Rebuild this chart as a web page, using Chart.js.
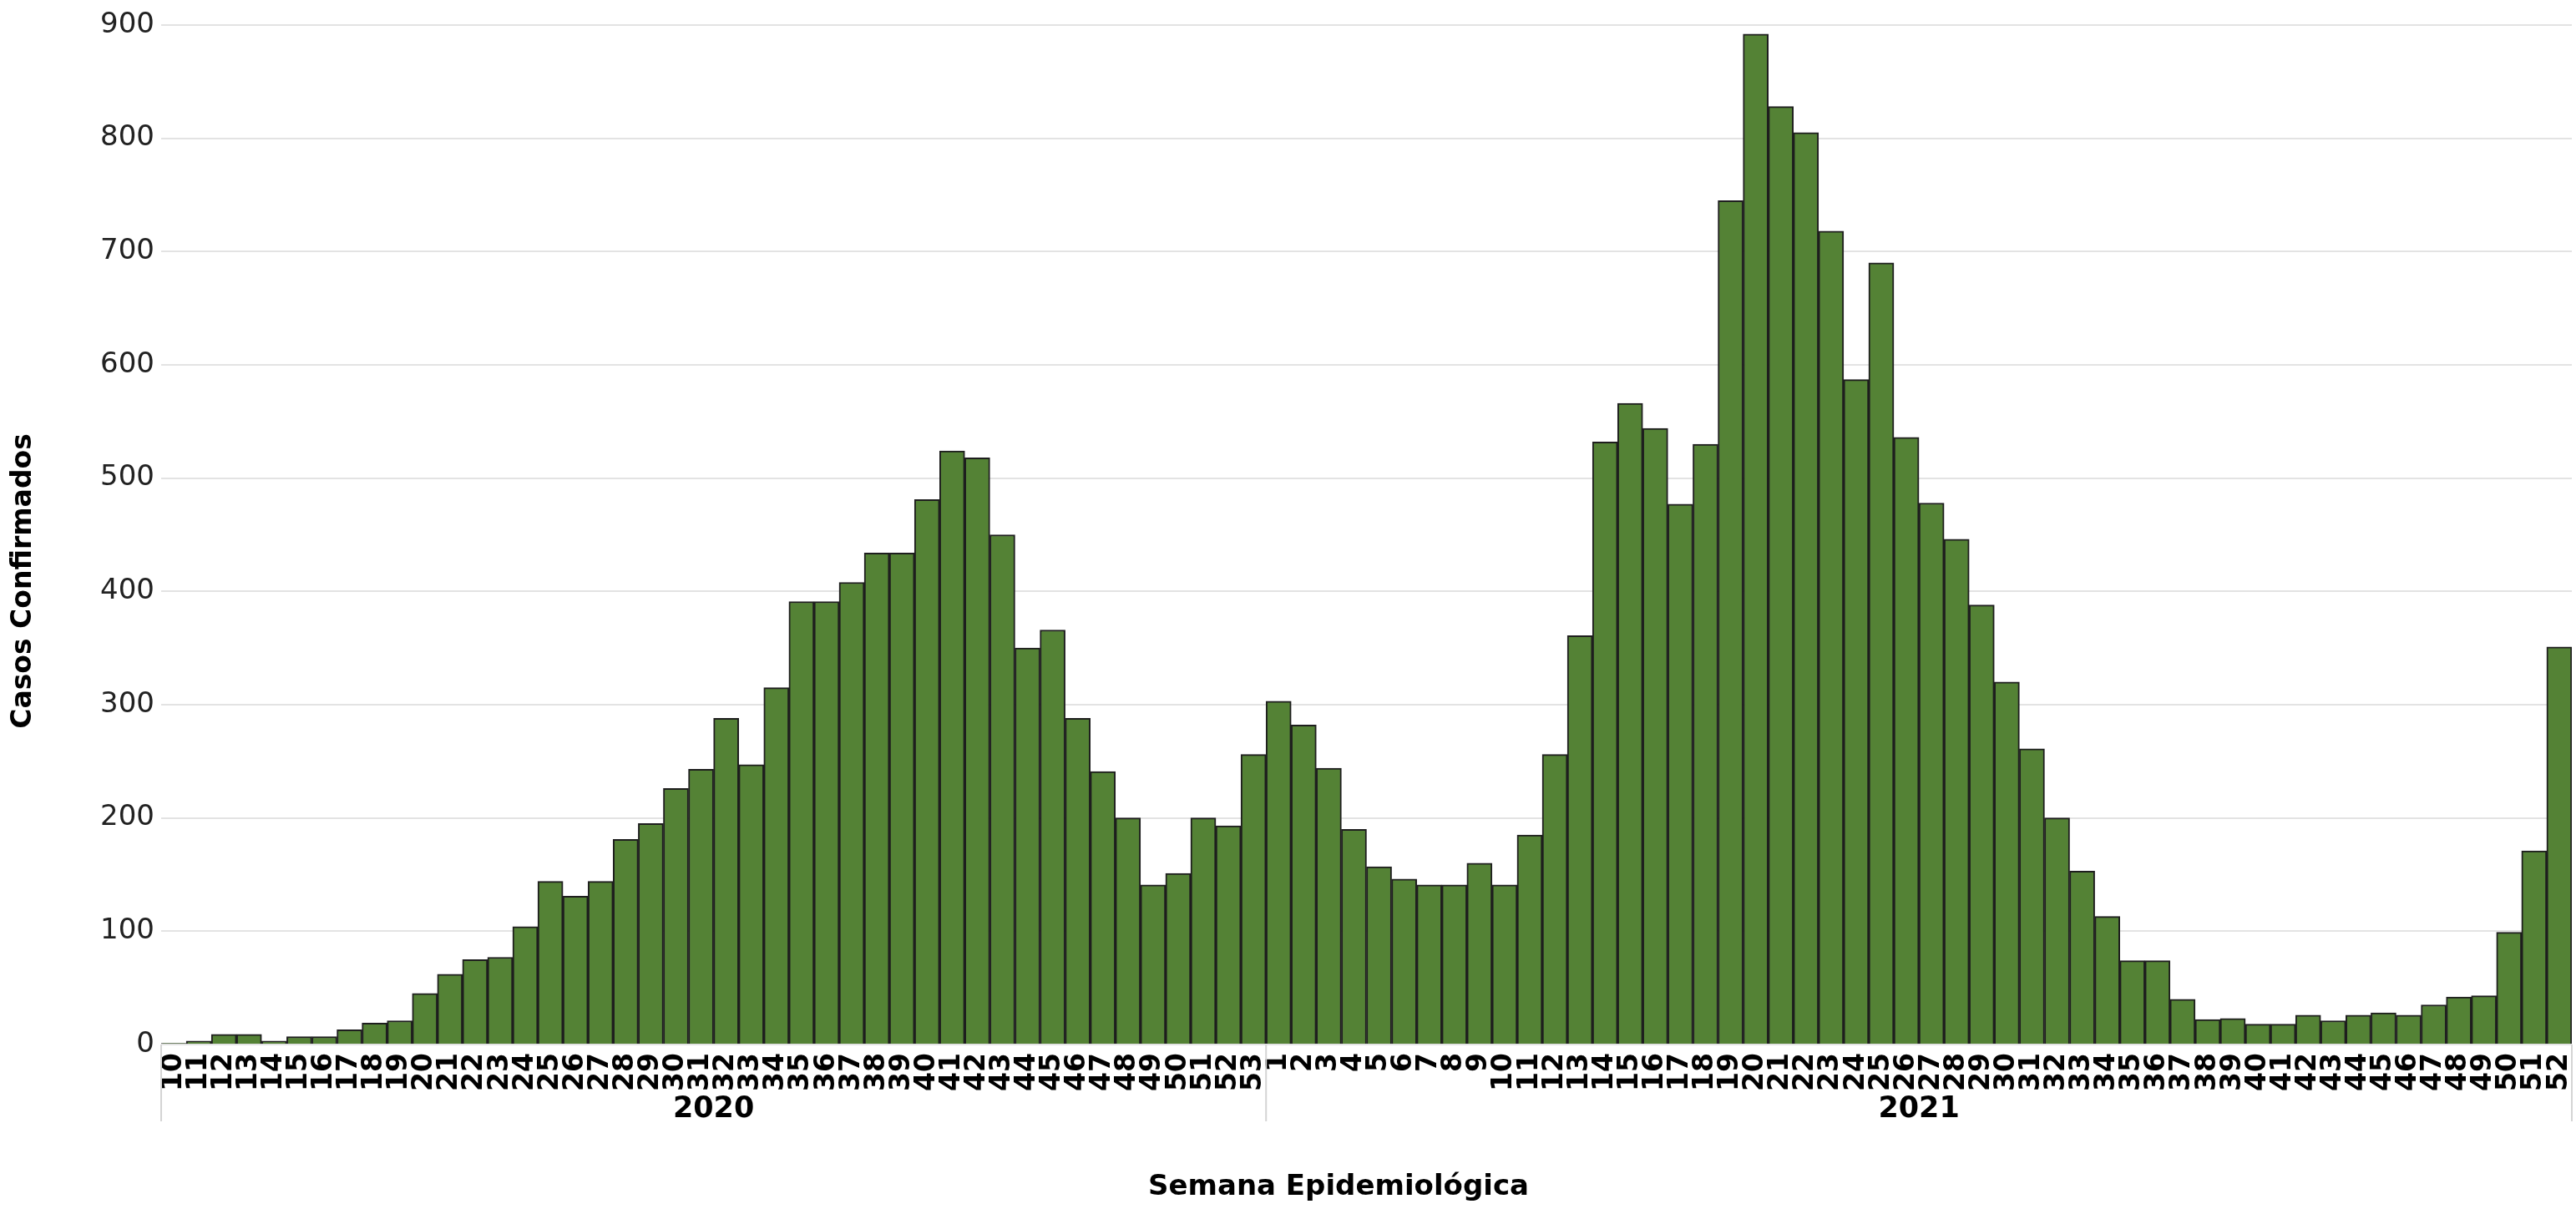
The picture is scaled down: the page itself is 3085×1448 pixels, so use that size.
<!DOCTYPE html>
<html lang="pt">
<head>
  <meta charset="UTF-8">
  <title>Casos Confirmados por Semana Epidemiológica</title>
  <!-- Chart.js -->
  <script src="https://cdn.jsdelivr.net/npm/chart.js"></script>
  <style>
    html, body { margin: 0; padding: 0; background: #fff; }
    canvas { display: block; }
  </style>
</head>
<body>
<canvas id="casosChart" width="3085" height="1448"></canvas>

<script>
  // semanas epidemiológicas por ano
  const semanas2020 = ['10','11','12','13','14','15','16','17','18','19','20','21','22','23','24','25','26','27','28','29','30','31',
    '32','33','34','35','36','37','38','39','40','41','42','43','44','45','46','47','48','49','50','51','52','53'];
  const semanas2021 = ['1','2','3','4','5','6','7','8','9','10','11','12','13','14','15','16','17','18','19','20','21','22','23','24','25','26',
    '27','28','29','30','31','32','33','34','35','36','37','38','39','40','41','42','43','44','45','46','47','48','49','50','51','52'];

  // casos confirmados
  const casos2020 = [1, 3, 9, 9, 3, 7, 7, 13, 19, 21, 45, 62, 75, 77, 104, 144, 131, 144, 181, 195, 226, 243,
    288, 247, 315, 391, 391, 408, 434, 434, 481, 524, 518, 450, 350, 366, 288, 241, 200, 141, 151, 200, 193, 256];
  const casos2021 = [303, 282, 244, 190, 157, 146, 141, 141, 160, 141, 185, 256, 361, 532, 566, 544, 477, 530, 745, 892, 828, 805,
    718, 587, 690, 536, 478, 446, 388, 320, 261, 200, 153, 113, 74, 74, 40, 22, 23, 18, 18, 26, 21, 26, 28, 26,
    35, 42, 43, 99, 171, 351];

  const anos = ['2020', '2021'];
  const yMax = 900;
  const yStep = 100;

  const fonte = "'DejaVu Sans', sans-serif";

  // linhas de separação e rótulos dos anos abaixo das semanas
  const anosPlugin = {
    id: 'anosPlugin',
    afterDraw(chart) {
      const ctx = chart.ctx;
      const x = chart.scales.x;
      const area = chart.chartArea;
      const passo = x.getPixelForValue(1) - x.getPixelForValue(0);
      const grupos = [semanas2020.length, semanas2021.length];
      const yBase = area.bottom;
      const yFim = 1343;

      ctx.save();
      let inicio = 0;
      const bordas = [];
      grupos.forEach((n, i) => {
        const esq = x.getPixelForValue(inicio) - passo / 2;
        const dir = x.getPixelForValue(inicio + n - 1) + passo / 2;
        bordas.push(esq);
        if (i === grupos.length - 1) bordas.push(dir);
        ctx.fillStyle = '#000';
        ctx.font = 'bold 35px ' + fonte;
        ctx.textAlign = 'center';
        ctx.textBaseline = 'middle';
        ctx.fillText(anos[i], (esq + dir) / 2, 1329);
        inicio += n;
      });
      ctx.strokeStyle = '#d4d4d4';
      ctx.lineWidth = 2;
      bordas.forEach(b => {
        ctx.beginPath();
        ctx.moveTo(b, yBase);
        ctx.lineTo(b, yFim);
        ctx.stroke();
      });

      // títulos dos eixos
      ctx.fillStyle = '#000';
      ctx.font = 'bold 34px ' + fonte;
      ctx.textAlign = 'center';
      ctx.textBaseline = 'middle';
      ctx.fillText('Semana Epidemiológica', 1603, 1422);
      ctx.font = 'bold 33px ' + fonte;
      ctx.translate(28, 696);
      ctx.rotate(-Math.PI / 2);
      ctx.fillText('Casos Confirmados', 0, 0);
      ctx.restore();
    }
  };

  const ctx = document.getElementById('casosChart').getContext('2d');
  const casosChart = new Chart(ctx, {
    type: 'bar',
    data: {
      labels: semanas2020.concat(semanas2021),
      datasets: [{
        label: 'Casos Confirmados',
        data: casos2020.concat(casos2021),
        backgroundColor: '#548235',
        borderColor: '#1e1e1e',
        borderWidth: 2,
        categoryPercentage: 1.0,
        barPercentage: 1.0
      }]
    },
    options: {
      responsive: false,
      animation: false,
      layout: { padding: { top: 30, right: 5, left: 0, bottom: 0 } },
      plugins: {
        legend: { display: false },
        tooltip: { enabled: false }
      },
      scales: {
        x: {
          grid: { display: false },
          border: { display: false },
          ticks: {
            autoSkip: false,
            maxRotation: 90,
            minRotation: 90,
            padding: 2,
            color: '#000',
            font: { family: fonte, size: 33, weight: 'bold' }
          },
          afterFit(scale) {
            scale.height = 197;
            scale.paddingLeft = 0;
            scale.paddingRight = 0;
          }
        },
        y: {
          min: 0,
          max: yMax,
          grid: { color: '#e3e3e3', lineWidth: 2, drawTicks: false },
          border: { display: false },
          ticks: {
            stepSize: yStep,
            padding: 8,
            color: '#222',
            font: { family: fonte, size: 34 }
          },
          afterFit(scale) { scale.width = 193; }
        }
      }
    },
    plugins: [anosPlugin]
  });
</script>
</body>
</html>
